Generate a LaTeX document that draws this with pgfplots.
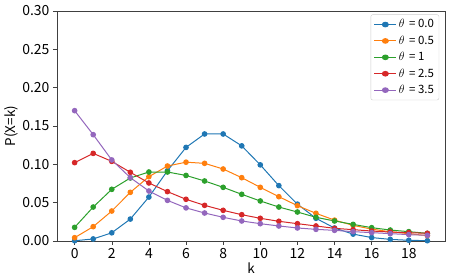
\documentclass[border=0pt]{standalone}
\usepackage{fontspec}
\setmainfont{Noto Sans CJK JP}
\usepackage{pgfplots}
\pgfplotsset{compat=1.18}
\definecolor{c0}{HTML}{1F77B4}
\definecolor{c1}{HTML}{FF7F0E}
\definecolor{c2}{HTML}{2CA02C}
\definecolor{c3}{HTML}{D62728}
\definecolor{c4}{HTML}{9467BD}
\begin{document}
\begin{tikzpicture}
\begin{axis}[
  at={(0,0)}, anchor=south west,
  scale only axis,
  width=388bp, height=230bp,
  xmin=-0.95, xmax=19.95,
  ymin=0, ymax=0.30,
  xtick={0,2,...,18},
  ytick={0,0.05,...,0.30},
  yticklabel style={/pgf/number format/.cd,fixed,fixed zerofill,precision=2},
  /pgf/number format/assume math mode=true,
  tick align=outside,
  tick pos=left,
  major tick length=4bp,
  axis line style={black!75},
  every tick/.style={black!75},
  ticklabel style={font=\fontsize{14}{16}\selectfont},
  label style={font=\fontsize{13.5}{16}\selectfont},
  xlabel={k}, ylabel={P(X=k)},
  xlabel style={yshift=3bp},
  ylabel style={yshift=-3bp},
  legend style={at={(0.985,0.985)}, anchor=north east, font=\fontsize{11.5}{13}\selectfont, draw=black!20, rounded corners=2pt, row sep=2.6bp, inner xsep=3bp, inner ysep=3bp},
  legend image post style={xscale=1.3},
  legend cell align=left,
  every axis plot/.append style={line width=1bp, mark=*, mark size=2.3bp},
]
\addplot[c0, mark options={fill=c0, draw=none}] coordinates {(0,0.000335)(1,0.00268)(2,0.0107)(3,0.0286)(4,0.0573)(5,0.0916)(6,0.1221)(7,0.1396)(8,0.1396)(9,0.1241)(10,0.0993)(11,0.0722)(12,0.0481)(13,0.0296)(14,0.0169)(15,0.0090)(16,0.0045)(17,0.0021)(18,0.00094)(19,0.0004)};
\addlegendentry{$\theta$\, = 0.0}
\addplot[c1, mark options={fill=c1, draw=none}] coordinates {(0,0.0043)(1,0.0187)(2,0.0391)(3,0.0635)(4,0.0839)(5,0.0978)(6,0.1028)(7,0.1013)(8,0.0939)(9,0.0826)(10,0.0700)(11,0.0578)(12,0.0461)(13,0.0361)(14,0.0272)(15,0.0204)(16,0.0155)(17,0.0120)(18,0.0095)(19,0.0070)};
\addlegendentry{$\theta$\, = 0.5}
\addplot[c2, mark options={fill=c2, draw=none}] coordinates {(0,0.0178)(1,0.0443)(2,0.0674)(3,0.0822)(4,0.0900)(5,0.0900)(6,0.0855)(7,0.0783)(8,0.0700)(9,0.0609)(10,0.0522)(11,0.0443)(12,0.0378)(13,0.0309)(14,0.0261)(15,0.0217)(16,0.0174)(17,0.0143)(18,0.0122)(19,0.0100)};
\addlegendentry{$\theta$\, = 1}
\addplot[c3, mark options={fill=c3, draw=none}] coordinates {(0,0.1022)(1,0.1143)(2,0.1039)(3,0.0896)(4,0.0757)(5,0.0644)(6,0.0544)(7,0.0465)(8,0.0400)(9,0.0343)(10,0.0296)(11,0.0257)(12,0.0226)(13,0.0196)(14,0.0165)(15,0.0148)(16,0.0130)(17,0.0117)(18,0.0109)(19,0.0100)};
\addlegendentry{$\theta$\, = 2.5}
\addplot[c4, mark options={fill=c4, draw=none}] coordinates {(0,0.1700)(1,0.1387)(2,0.1057)(3,0.0826)(4,0.0652)(5,0.0530)(6,0.0432)(7,0.0365)(8,0.0309)(9,0.0261)(10,0.0226)(11,0.0196)(12,0.0170)(13,0.0152)(14,0.0139)(15,0.0122)(16,0.0109)(17,0.0096)(18,0.0083)(19,0.0074)};
\addlegendentry{$\theta$\, = 3.5}
\end{axis}
\pgfresetboundingbox
\path[use as bounding box] (-57bp,-39bp) rectangle (392bp,241bp);
\end{tikzpicture}
\end{document}
